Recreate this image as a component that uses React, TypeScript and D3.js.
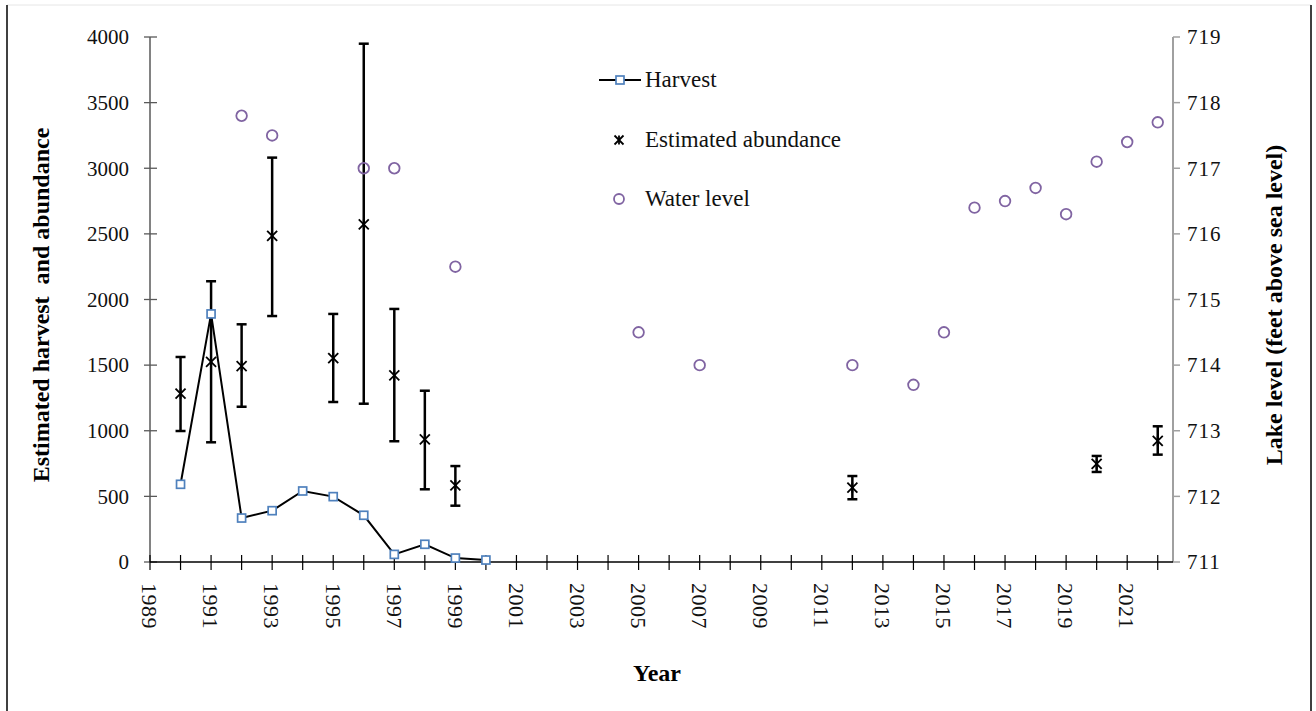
import React from 'react';
import * as d3 from 'd3';

// Harvest by year
const harvestYears = [1990, 1991, 1992, 1993, 1994, 1995, 1996, 1997, 1998, 1999, 2000];
const harvestValues = [592, 1890, 335, 391, 541, 498, 356, 58, 135, 30, 15];

// Estimated abundance with confidence limits
const abundanceYears = [1990, 1991, 1992, 1993, 1995, 1996, 1997, 1998, 1999, 2012, 2020, 2022];
const abundanceValues = [1282, 1524, 1493, 2484, 1554, 2573, 1422, 935, 584, 566, 747, 922];
const abundanceLow = [998, 912, 1183, 1874, 1219, 1206, 920, 554, 429, 478, 686, 818];
const abundanceHigh = [1562, 2139, 1811, 3081, 1890, 3949, 1928, 1305, 731, 655, 808, 1034];

// Lake water level (right axis)
const waterYears = [1992, 1993, 1996, 1997, 1999, 2005, 2007, 2012, 2014, 2015, 2016, 2017, 2018, 2019, 2020, 2021, 2022];
const waterLevels = [717.8, 717.5, 717.0, 717.0, 715.5, 714.5, 714.0, 714.0, 713.7, 714.5, 716.4, 716.5, 716.7, 716.3, 717.1, 717.4, 717.7];

const leftTicks = [0, 500, 1000, 1500, 2000, 2500, 3000, 3500, 4000];
const rightTicks = [711, 712, 713, 714, 715, 716, 717, 718, 719];
const yearTicks = d3.range(1989, 2023);
const yearLabels = d3.range(1989, 2022, 2);

const W = 1316;
const H = 711;
const FONT = '"Liberation Serif", "Times New Roman", serif';
const BLUE = '#4f81bd';
const PURPLE = '#8064a2';

const App: React.FC = () => {
  const x = d3.scaleLinear().domain([1989, 2022.5]).range([150, 1173]);
  const yL = d3.scaleLinear().domain([0, 4000]).range([562, 37]);
  const yR = d3.scaleLinear().domain([711, 719]).range([562, 37]);

  const line = d3.line<number>()
    .x((_, i) => x(harvestYears[i]))
    .y(d => yL(d));

  const star = (cx: number, cy: number, s: number, key?: string | number) => (
    <g key={key} stroke="#000" strokeWidth={1.8}>
      <line x1={cx - s} y1={cy - s} x2={cx + s} y2={cy + s} />
      <line x1={cx - s} y1={cy + s} x2={cx + s} y2={cy - s} />
      <line x1={cx} y1={cy - s} x2={cx} y2={cy + s} />
    </g>
  );

  return (
    <svg width={W} height={H} style={{ position: 'absolute', left: 0, top: 0, background: '#fff', fontFamily: FONT }}>
      {/* frame */}
      <line x1={7} y1={5} x2={1311} y2={5} stroke="#e6e6e6" strokeWidth={1} />
      <line x1={7} y1={5} x2={7} y2={H} stroke="#000" strokeWidth={1.5} />
      <line x1={1311} y1={5} x2={1311} y2={H} stroke="#000" strokeWidth={1.5} />

      {/* left axis */}
      <line x1={150} y1={yL(0)} x2={150} y2={yL(4000)} stroke="#595959" strokeWidth={1.5} />
      {leftTicks.map(t => (
        <g key={t}>
          <line x1={144} x2={157} y1={yL(t)} y2={yL(t)} stroke="#595959" strokeWidth={1.3} />
          <text x={129} y={yL(t)} dy="0.35em" textAnchor="end" fontSize={21} fill="#111">{t}</text>
        </g>
      ))}

      {/* right axis */}
      <line x1={1173} y1={yR(711)} x2={1173} y2={yR(719)} stroke="#a0a0a0" strokeWidth={2} />
      {rightTicks.map(t => (
        <g key={t}>
          <line x1={1173} x2={1180} y1={yR(t)} y2={yR(t)} stroke="#a0a0a0" strokeWidth={1.5} />
          <text x={1187} y={yR(t)} dy="0.35em" textAnchor="start" fontSize={21} letterSpacing={1} fill="#111">{t}</text>
        </g>
      ))}

      {/* x axis */}
      <line x1={150} y1={562} x2={1173} y2={562} stroke="#000" strokeWidth={1.5} />
      {yearTicks.map(t => (
        <line key={t} x1={x(t)} x2={x(t)} y1={555} y2={570} stroke="#000" strokeWidth={1.2} />
      ))}
      {yearLabels.map(t => (
        <text key={t} transform={`translate(${x(t)},583) rotate(90)`} dy="0.35em"
          textAnchor="start" fontSize={22} letterSpacing={0.5} fill="#111">{t}</text>
      ))}

      {/* axis titles */}
      <text transform="translate(49,305) rotate(-90)" textAnchor="middle" fontSize={24}
        fontWeight="bold" fill="#000" style={{ whiteSpace: 'pre' }}>Estimated harvest  and abundance</text>
      <text transform="translate(1282,305) rotate(-90)" textAnchor="middle" fontSize={24}
        fontWeight="bold" fill="#000">Lake level (feet above sea level)</text>
      <text x={657} y={681} textAnchor="middle" fontSize={24} fontWeight="bold" fill="#000">Year</text>

      {/* error bars */}
      {abundanceYears.map((yr, i) => (
        <g key={yr} stroke="#000" strokeWidth={2.5}>
          <line x1={x(yr)} x2={x(yr)} y1={yL(abundanceLow[i])} y2={yL(abundanceHigh[i])} />
          <line x1={x(yr) - 5} x2={x(yr) + 5} y1={yL(abundanceLow[i])} y2={yL(abundanceLow[i])} />
          <line x1={x(yr) - 5} x2={x(yr) + 5} y1={yL(abundanceHigh[i])} y2={yL(abundanceHigh[i])} />
        </g>
      ))}
      {abundanceYears.map((yr, i) => star(x(yr), yL(abundanceValues[i]), 5, 's' + yr))}

      {/* harvest */}
      <path d={line(harvestValues) || ''} fill="none" stroke="#000" strokeWidth={2} />
      {harvestYears.map((yr, i) => (
        <rect key={yr} x={x(yr) - 4} y={yL(harvestValues[i]) - 4} width={8} height={8}
          fill="#fff" stroke={BLUE} strokeWidth={1.7} />
      ))}

      {/* water level */}
      {waterYears.map((yr, i) => (
        <circle key={yr} cx={x(yr)} cy={yR(waterLevels[i])} r={5.3} fill="none"
          stroke={PURPLE} strokeWidth={1.8} />
      ))}

      {/* legend */}
      <g>
        <line x1={599} x2={641} y1={80} y2={80} stroke="#000" strokeWidth={2} />
        <rect x={616} y={76} width={8} height={8} fill="#fff" stroke={BLUE} strokeWidth={1.7} />
        <text x={645} y={87} fontSize={23} fill="#111">Harvest</text>
        {star(619, 140, 4.5)}
        <text x={645} y={147} fontSize={23} fill="#111">Estimated abundance</text>
        <circle cx={619} cy={199} r={5} fill="none" stroke={PURPLE} strokeWidth={1.8} />
        <text x={645} y={206} fontSize={23} fill="#111">Water level</text>
      </g>
    </svg>
  );
};

export default App;
